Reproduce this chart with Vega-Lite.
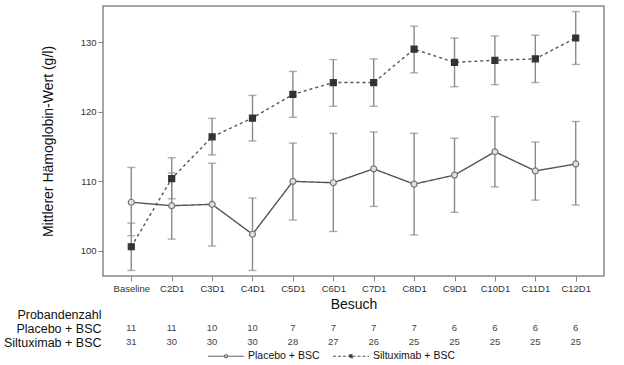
{
  "$schema": "https://vega.github.io/schema/vega-lite/v6.json",
  "padding": {"left": 3, "top": 5, "right": 21, "bottom": 0},
  "background": "white",
  "config": {
    "font": "Liberation Sans",
    "view": {"stroke": "#888", "strokeWidth": 1.5},
    "axis": {"labelColor": "#333", "titleColor": "#111", "titleFontWeight": "normal", "tickColor": "#888", "grid": false, "domain": false}
  },
  "datasets": {
    "hb": [
      {"visit": "Baseline", "group": "Placebo + BSC", "mean": 107.0, "lo": 102.2, "hi": 112.0},
      {"visit": "C2D1", "group": "Placebo + BSC", "mean": 106.5, "lo": 101.7, "hi": 111.2},
      {"visit": "C3D1", "group": "Placebo + BSC", "mean": 106.7, "lo": 100.7, "hi": 112.6},
      {"visit": "C4D1", "group": "Placebo + BSC", "mean": 102.4, "lo": 97.2, "hi": 107.6},
      {"visit": "C5D1", "group": "Placebo + BSC", "mean": 110.0, "lo": 104.45, "hi": 115.5},
      {"visit": "C6D1", "group": "Placebo + BSC", "mean": 109.8, "lo": 102.8, "hi": 116.9},
      {"visit": "C7D1", "group": "Placebo + BSC", "mean": 111.8, "lo": 106.4, "hi": 117.1},
      {"visit": "C8D1", "group": "Placebo + BSC", "mean": 109.6, "lo": 102.3, "hi": 116.9},
      {"visit": "C9D1", "group": "Placebo + BSC", "mean": 110.9, "lo": 105.55, "hi": 116.2},
      {"visit": "C10D1", "group": "Placebo + BSC", "mean": 114.25, "lo": 109.2, "hi": 119.3},
      {"visit": "C11D1", "group": "Placebo + BSC", "mean": 111.5, "lo": 107.3, "hi": 115.65},
      {"visit": "C12D1", "group": "Placebo + BSC", "mean": 112.5, "lo": 106.6, "hi": 118.6},
      {"visit": "Baseline", "group": "Siltuximab + BSC", "mean": 100.6, "lo": 97.2, "hi": 104.0},
      {"visit": "C2D1", "group": "Siltuximab + BSC", "mean": 110.4, "lo": 107.5, "hi": 113.4},
      {"visit": "C3D1", "group": "Siltuximab + BSC", "mean": 116.4, "lo": 113.8, "hi": 119.05},
      {"visit": "C4D1", "group": "Siltuximab + BSC", "mean": 119.1, "lo": 115.8, "hi": 122.35},
      {"visit": "C5D1", "group": "Siltuximab + BSC", "mean": 122.5, "lo": 119.2, "hi": 125.8},
      {"visit": "C6D1", "group": "Siltuximab + BSC", "mean": 124.2, "lo": 120.8, "hi": 127.5},
      {"visit": "C7D1", "group": "Siltuximab + BSC", "mean": 124.2, "lo": 120.8, "hi": 127.6},
      {"visit": "C8D1", "group": "Siltuximab + BSC", "mean": 129.0, "lo": 125.6, "hi": 132.3},
      {"visit": "C9D1", "group": "Siltuximab + BSC", "mean": 127.1, "lo": 123.6, "hi": 130.6},
      {"visit": "C10D1", "group": "Siltuximab + BSC", "mean": 127.4, "lo": 123.9, "hi": 130.9},
      {"visit": "C11D1", "group": "Siltuximab + BSC", "mean": 127.6, "lo": 124.2, "hi": 131.0},
      {"visit": "C12D1", "group": "Siltuximab + BSC", "mean": 130.6, "lo": 126.8, "hi": 134.4}
    ],
    "counts": [
      {"visit": "Baseline", "group": "Placebo + BSC", "n": 11},
      {"visit": "C2D1", "group": "Placebo + BSC", "n": 11},
      {"visit": "C3D1", "group": "Placebo + BSC", "n": 10},
      {"visit": "C4D1", "group": "Placebo + BSC", "n": 10},
      {"visit": "C5D1", "group": "Placebo + BSC", "n": 7},
      {"visit": "C6D1", "group": "Placebo + BSC", "n": 7},
      {"visit": "C7D1", "group": "Placebo + BSC", "n": 7},
      {"visit": "C8D1", "group": "Placebo + BSC", "n": 7},
      {"visit": "C9D1", "group": "Placebo + BSC", "n": 6},
      {"visit": "C10D1", "group": "Placebo + BSC", "n": 6},
      {"visit": "C11D1", "group": "Placebo + BSC", "n": 6},
      {"visit": "C12D1", "group": "Placebo + BSC", "n": 6},
      {"visit": "Baseline", "group": "Siltuximab + BSC", "n": 31},
      {"visit": "C2D1", "group": "Siltuximab + BSC", "n": 30},
      {"visit": "C3D1", "group": "Siltuximab + BSC", "n": 30},
      {"visit": "C4D1", "group": "Siltuximab + BSC", "n": 30},
      {"visit": "C5D1", "group": "Siltuximab + BSC", "n": 28},
      {"visit": "C6D1", "group": "Siltuximab + BSC", "n": 27},
      {"visit": "C7D1", "group": "Siltuximab + BSC", "n": 26},
      {"visit": "C8D1", "group": "Siltuximab + BSC", "n": 25},
      {"visit": "C9D1", "group": "Siltuximab + BSC", "n": 25},
      {"visit": "C10D1", "group": "Siltuximab + BSC", "n": 25},
      {"visit": "C11D1", "group": "Siltuximab + BSC", "n": 25},
      {"visit": "C12D1", "group": "Siltuximab + BSC", "n": 25}
    ]
  },
  "resolve": {"scale": {"x": "independent", "y": "independent"}},
  "bounds": "flush",
  "spacing": 31,
  "vconcat": [
    {
      "width": 501,
      "height": 270,
      "data": {"name": "hb"},
      "encoding": {
        "x": {
          "field": "visit", "type": "ordinal",
          "scale": {"type": "point", "padding": 0.7, "domain": ["Baseline", "C2D1", "C3D1", "C4D1", "C5D1", "C6D1", "C7D1", "C8D1", "C9D1", "C10D1", "C11D1", "C12D1"]},
          "axis": {"title": "Besuch", "labelAngle": 0, "labelFontSize": 9.5, "tickSize": 5, "labelPadding": 2, "titleFontSize": 14, "titlePadding": 5}
        }
      },
      "layer": [
        {
          "mark": {"type": "rule", "color": "#8a8a8a", "strokeWidth": 1.4},
          "encoding": {
            "y": {"field": "lo", "type": "quantitative"},
            "y2": {"field": "hi"}
          }
        },
        {
          "mark": {"type": "tick", "color": "#8a8a8a", "size": 8, "thickness": 1.4},
          "encoding": {"y": {"field": "lo", "type": "quantitative"}}
        },
        {
          "mark": {"type": "tick", "color": "#8a8a8a", "size": 8, "thickness": 1.4},
          "encoding": {"y": {"field": "hi", "type": "quantitative"}}
        },
        {
          "mark": {"type": "line", "color": "#555", "strokeWidth": 1.4},
          "encoding": {
            "y": {
              "field": "mean", "type": "quantitative",
              "scale": {"domain": [96.4, 135.2], "nice": false, "zero": false},
              "axis": {"title": "Mittlerer Hämoglobin-Wert (g/l)", "values": [100, 110, 120, 130], "labelFontSize": 9.5, "tickSize": 5, "titleFontSize": 14, "titlePadding": 25}
            },
            "detail": {"field": "group", "type": "nominal"},
            "strokeDash": {"condition": {"test": "datum.group === 'Placebo + BSC'", "value": [1, 0]}, "value": [3, 3]}
          }
        },
        {
          "mark": {"type": "point", "filled": true, "strokeWidth": 1.2, "opacity": 1},
          "encoding": {
            "y": {"field": "mean", "type": "quantitative"},
            "shape": {"condition": {"test": "datum.group === 'Placebo + BSC'", "value": "circle"}, "value": "square"},
            "fill": {"condition": {"test": "datum.group === 'Placebo + BSC'", "value": "#e0e0e0"}, "value": "#333"},
            "stroke": {"condition": {"test": "datum.group === 'Placebo + BSC'", "value": "#777"}, "value": "#333"},
            "size": {"value": 36}
          }
        },
        {
          "transform": [{"filter": "datum.mean > 1000"}],
          "mark": {"type": "point", "filled": true, "strokeWidth": 1.2, "opacity": 1},
          "encoding": {
            "y": {"field": "mean", "type": "quantitative"},
            "shape": {
              "field": "group", "type": "nominal",
              "scale": {"domain": ["Placebo + BSC", "Siltuximab + BSC"], "range": ["M-3.6,0H-0.3M0.3,0H3.6M-0.3,0A0.3,0.3 0 1,1 0.3,0A0.3,0.3 0 1,1 -0.3,0", "M-3.6,0H-0.3M0.3,0H3.6M-0.3,-0.3H0.3V0.3H-0.3Z"]},
              "legend": {
                "title": null, "orient": "none", "legendX": 117, "legendY": 344, "direction": "horizontal", "padding": 0,
                "symbolSize": 100, "symbolStrokeWidth": 1.2, "labelFontSize": 10.5, "labelColor": "#111", "columnPadding": 10, "labelOffset": 16
              }
            },
            "fill": {"field": "group", "type": "nominal", "scale": {"domain": ["Placebo + BSC", "Siltuximab + BSC"], "range": ["#e8e8e8", "#333"]}},
            "stroke": {"field": "group", "type": "nominal", "scale": {"domain": ["Placebo + BSC", "Siltuximab + BSC"], "range": ["#666", "#555"]}},
            "strokeDash": {"field": "group", "type": "nominal", "scale": {"domain": ["Placebo + BSC", "Siltuximab + BSC"], "range": [[1, 0], [3, 2]]}}
          }
        }
      ]
    },
    {
      "width": 501,
      "height": 42,
      "view": {"stroke": null},
      "data": {"name": "counts"},
      "mark": {"type": "text", "fontSize": 9.5, "color": "#444"},
      "encoding": {
        "x": {
          "field": "visit", "type": "ordinal",
          "scale": {"type": "point", "padding": 0.7, "domain": ["Baseline", "C2D1", "C3D1", "C4D1", "C5D1", "C6D1", "C7D1", "C8D1", "C9D1", "C10D1", "C11D1", "C12D1"]},
          "axis": null
        },
        "y": {
          "field": "group", "type": "nominal",
          "scale": {"type": "point", "padding": 0.5, "domain": ["Probandenzahl", "Placebo + BSC", "Siltuximab + BSC"]},
          "axis": {"title": null, "ticks": false, "domain": false, "labelFontSize": 12.5, "labelColor": "#111", "labelPadding": 2}
        },
        "text": {"field": "n", "type": "quantitative"}
      }
    }
  ]
}
